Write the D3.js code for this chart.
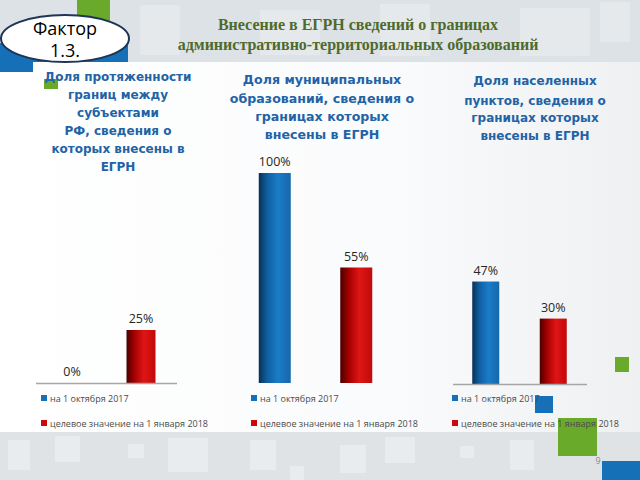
<!DOCTYPE html>
<html><head><meta charset="utf-8">
<script src="https://cdn.jsdelivr.net/npm/d3@7"></script>
<style>html,body{margin:0;padding:0;background:#fff;}svg{display:block;}</style>
</head><body>
<svg id="c" width="640" height="480"></svg>
<script>
// ---- data ----
const headerBadge = ["Фактор", "1.3."];
const mainTitle = ["Внесение в ЕГРН сведений о границах", "административно-территориальных образований"];
const panelTitles = [
  ["Доля протяженности", "границ между", "субъектами", "РФ, сведения о", "которых внесены в", "ЕГРН"],
  ["Доля муниципальных", "образований, сведения о", "границах которых", "внесены в ЕГРН"],
  ["Доля населенных", "пунктов, сведения о", "границах которых", "внесены в ЕГРН"]
];
const seriesNames = ["на 1 октября 2017", "целевое значение на 1 января 2018"];
const valuesOct2017 = [0, 100, 47];
const valuesTarget2018 = [25, 55, 30];
const pageNumber = "9";

// ---- layout ----
const panels = [
  {x0: 37.5, x1: 175.5, base: 383, h100: 212, bw: 29, axis: [36, 177], titleX: 118, titleY: [81, 99, 117, 135, 153, 171], legX: 41, fs: 12},
  {x0: 234, x1: 397, base: 383, h100: 210, bw: 32, axis: null, titleX: 322, titleY: [84, 103, 121, 139], legX: 251, fs: 12.6},
  {x0: 452, x1: 587, base: 384, h100: 218, bw: 27, axis: [453, 587], titleX: 535, titleY: [85, 105, 122, 140], legX: 452, fs: 12}
];
const colors = ["#1570b8", "#cc0a0a"];

const svg = d3.select("#c");
const defs = svg.append("defs");
function grad(id, stops) {
  const g = defs.append("linearGradient").attr("id", id).attr("x1", 0).attr("y1", 0).attr("x2", 1).attr("y2", 0);
  stops.forEach(s => g.append("stop").attr("offset", s[0]).attr("stop-color", s[1]));
}
grad("gBlue", [[0, "#0a2f55"], [0.25, "#0f5d9e"], [0.6, "#1a7cc8"], [1, "#1668ab"]]);
grad("gRed", [[0, "#4a0000"], [0.25, "#a00000"], [0.6, "#e01515"], [1, "#c00a0a"]]);
grad("gBg", [[0, "#ffffff"], [0.6, "#fafbfc"], [1, "#eef0f2"]]);

// background
svg.append("rect").attr("width", 640).attr("height", 480).attr("fill", "url(#gBg)");
// header band
svg.append("rect").attr("x", 0).attr("y", 0).attr("width", 640).attr("height", 62).attr("fill", "#dde2e6");
[[140, 5, 40, 50], [260, 10, 60, 45], [380, 4, 50, 52], [520, 8, 70, 48], [600, 2, 30, 40]].forEach(r =>
  svg.append("rect").attr("x", r[0]).attr("y", r[1]).attr("width", r[2]).attr("height", r[3]).attr("fill", "#e6e9ec"));
// bottom band
svg.append("rect").attr("x", 0).attr("y", 432).attr("width", 640).attr("height", 48).attr("fill", "#dfe3e6");
[[8, 440, 22, 30], [55, 436, 25, 26], [128, 444, 16, 14], [168, 438, 40, 34], [250, 440, 26, 30], [290, 466, 14, 14],
 [340, 445, 26, 28], [385, 437, 30, 26], [460, 446, 14, 12], [510, 440, 24, 30]].forEach(r =>
  svg.append("rect").attr("x", r[0]).attr("y", r[1]).attr("width", r[2]).attr("height", r[3]).attr("fill", "#e9ecee"));

// decorative squares
svg.append("rect").attr("x", 77).attr("y", 0).attr("width", 33).attr("height", 22).attr("fill", "#6aaa2a");
svg.append("rect").attr("x", 0).attr("y", 43).attr("width", 128).attr("height", 19).attr("fill", "#1570b8");
svg.append("rect").attr("x", 0).attr("y", 43).attr("width", 33).attr("height", 29).attr("fill", "#1570b8");
svg.append("rect").attr("x", 44).attr("y", 79).attr("width", 14).attr("height", 10).attr("fill", "#6aaa2a");
svg.append("rect").attr("x", 535).attr("y", 396).attr("width", 18).attr("height", 17).attr("fill", "#1570b8");
svg.append("rect").attr("x", 558).attr("y", 418).attr("width", 39).attr("height", 38).attr("fill", "#6aaa2a");
svg.append("rect").attr("x", 602).attr("y", 461).attr("width", 38).attr("height", 19).attr("fill", "#1570b8");
svg.append("rect").attr("x", 615).attr("y", 357).attr("width", 14).attr("height", 15).attr("fill", "#6aaa2a");

// badge ellipse
svg.append("ellipse").attr("cx", 65).attr("cy", 38.5).attr("rx", 64).attr("ry", 23.5)
  .attr("fill", "#fff").attr("stroke", "#1d3557").attr("stroke-width", 2);
svg.append("g").selectAll("text").data(headerBadge).join("text")
  .attr("x", 65).attr("y", (d, i) => 35 + i * 22).attr("text-anchor", "middle")
  .attr("font-family", "Open Sans, sans-serif").attr("font-size", 18).attr("fill", "#000").text(d => d);

// main title
svg.append("g").selectAll("text").data(mainTitle).join("text")
  .attr("x", 358).attr("y", (d, i) => 30 + i * 20).attr("text-anchor", "middle")
  .attr("font-family", "Liberation Serif, serif").attr("font-weight", "bold").attr("font-size", 16)
  .attr("fill", "#4d6b2c").text(d => d);

// panels
panels.forEach((p, i) => {
  const g = svg.append("g");
  g.selectAll("text.t").data(panelTitles[i]).join("text").attr("class", "t")
    .attr("x", p.titleX).attr("y", (d, j) => p.titleY[j]).attr("text-anchor", "middle")
    .attr("font-family", "DejaVu Sans, sans-serif").attr("font-weight", "bold").attr("font-size", p.fs)
    .attr("fill", "#2263a6").text(d => d);

  const x = d3.scalePoint().domain(seriesNames).range([p.x0, p.x1]).padding(0.5);
  const y = d3.scaleLinear().domain([0, 100]).range([p.base, p.base - p.h100]);
  const vals = [valuesOct2017[i], valuesTarget2018[i]];
  const data = seriesNames.map((s, k) => ({s, v: vals[k], k}));

  g.selectAll("rect.bar").data(data).join("rect").attr("class", "bar")
    .attr("x", d => x(d.s) - p.bw / 2).attr("width", p.bw)
    .attr("y", d => y(d.v)).attr("height", d => y(0) - y(d.v))
    .attr("fill", d => d.k === 0 ? "url(#gBlue)" : "url(#gRed)");

  if (p.axis) {
    g.append("line").attr("x1", p.axis[0]).attr("x2", p.axis[1]).attr("y1", y(0) + 0.5).attr("y2", y(0) + 0.5)
      .attr("stroke", "#a6a6a6").attr("stroke-width", 1.5);
  }

  g.selectAll("text.v").data(data).join("text").attr("class", "v")
    .attr("x", d => x(d.s)).attr("y", d => y(d.v) - 7).attr("text-anchor", "middle")
    .attr("font-family", "Open Sans, sans-serif").attr("font-size", 12.5).attr("fill", "#262626")
    .text(d => d.v + "%");

  const lg = g.selectAll("g.l").data(seriesNames).join("g").attr("class", "l")
    .attr("transform", (d, k) => `translate(${p.legX},${398 + k * 25})`);
  lg.append("rect").attr("x", 0).attr("y", -3).attr("width", 6).attr("height", 6)
    .attr("fill", (d, k) => colors[k]);
  lg.append("text").attr("x", 9).attr("y", 3.5)
    .attr("font-family", "Open Sans, sans-serif").attr("font-size", 9).attr("fill", "#4a4a4a").text(d => d);
});

svg.append("text").attr("x", 598).attr("y", 464).attr("text-anchor", "middle")
  .attr("font-family", "Open Sans, sans-serif").attr("font-size", 9).attr("fill", "#8a8a8a").text(pageNumber);
</script>
</body></html>
